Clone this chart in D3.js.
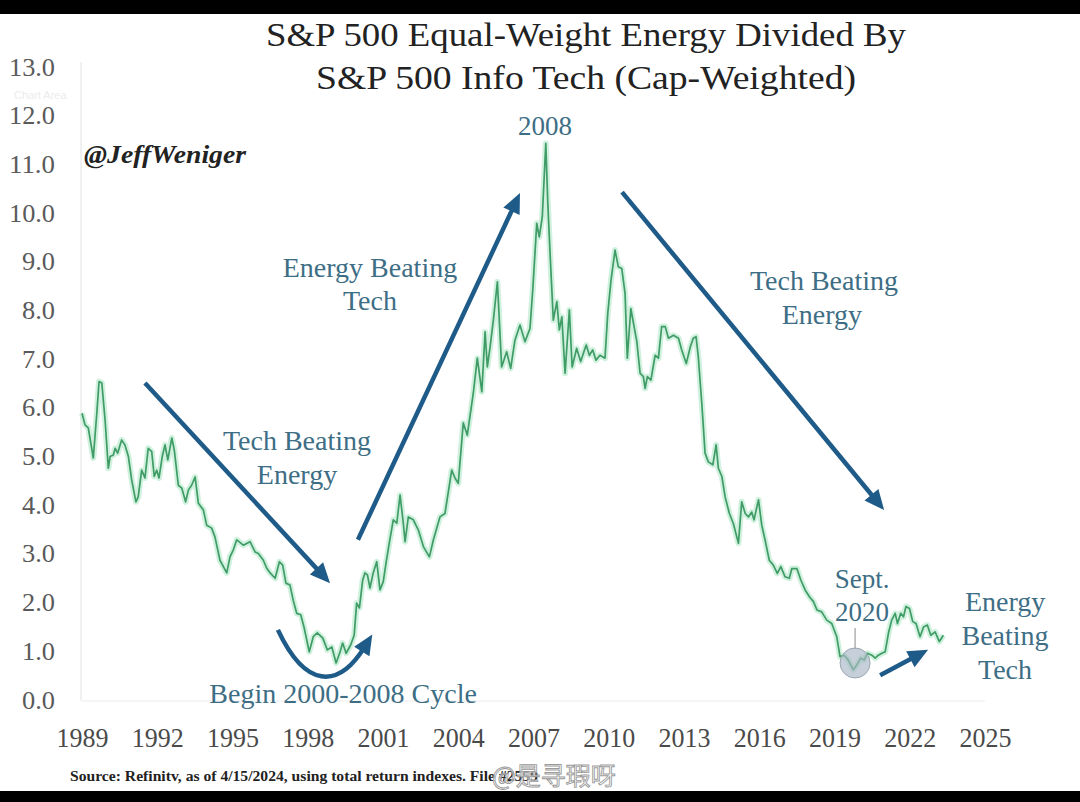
<!DOCTYPE html>
<html><head><meta charset="utf-8">
<script src="https://cdn.jsdelivr.net/npm/d3@7"></script>
<style>html,body{margin:0;padding:0;background:#fff;}svg{display:block}</style>
</head><body>
<svg id="c" width="1080" height="802"></svg>
<script>
// ---- data (x = chart axis year, value = ratio) ----
const years = [1989.00,1989.12,1989.25,1989.45,1989.59,1989.68,1989.79,1989.92,1990.05,1990.12,1990.25,1990.32,1990.42,1990.58,1990.71,1990.85,1990.98,1991.15,1991.24,1991.38,1991.51,1991.64,1991.78,1991.88,1991.98,1992.07,1992.20,1992.31,1992.42,1992.58,1992.68,1992.84,1992.98,1993.13,1993.24,1993.37,1993.51,1993.64,1993.84,1993.97,1994.17,1994.30,1994.50,1994.77,1994.90,1995.03,1995.17,1995.43,1995.70,1995.90,1996.03,1996.23,1996.36,1996.50,1996.70,1996.87,1997.00,1997.13,1997.29,1997.42,1997.56,1997.72,1997.85,1998.06,1998.22,1998.38,1998.60,1998.78,1998.96,1999.13,1999.29,1999.39,1999.53,1999.71,1999.85,1999.95,2000.06,2000.19,2000.28,2000.38,2000.48,2000.61,2000.75,2000.88,2001.01,2001.12,2001.25,2001.41,2001.55,2001.68,2001.81,2001.88,2002.01,2002.21,2002.41,2002.61,2002.85,2003.01,2003.27,2003.47,2003.74,2003.87,2004.00,2004.20,2004.36,2004.60,2004.76,2004.94,2005.07,2005.16,2005.27,2005.40,2005.56,2005.73,2005.93,2006.09,2006.26,2006.46,2006.66,2006.86,2006.97,2007.13,2007.23,2007.35,2007.49,2007.57,2007.66,2007.79,2007.93,2008.03,2008.13,2008.26,2008.43,2008.54,2008.72,2008.88,2009.10,2009.23,2009.36,2009.49,2009.65,2009.85,2009.96,2010.09,2010.25,2010.38,2010.52,2010.65,2010.74,2010.88,2011.01,2011.12,2011.25,2011.38,2011.45,2011.54,2011.68,2011.85,2011.98,2012.11,2012.25,2012.38,2012.58,2012.78,2012.91,2013.09,2013.25,2013.37,2013.48,2013.57,2013.71,2013.84,2013.97,2014.15,2014.28,2014.37,2014.51,2014.64,2014.81,2014.97,2015.17,2015.30,2015.44,2015.57,2015.70,2015.79,2015.97,2016.10,2016.23,2016.40,2016.56,2016.72,2016.86,2017.03,2017.20,2017.30,2017.50,2017.66,2017.83,2018.00,2018.16,2018.30,2018.49,2018.69,2018.89,2019.09,2019.22,2019.38,2019.55,2019.75,2019.89,2020.05,2020.18,2020.31,2020.49,2020.62,2020.75,2020.89,2021.02,2021.15,2021.28,2021.42,2021.51,2021.64,2021.75,2021.85,2021.99,2022.12,2022.25,2022.41,2022.55,2022.70,2022.84,2023.01,2023.18,2023.34];
const ratio = [5.89,5.65,5.59,4.97,5.89,6.54,6.51,5.75,4.76,5.00,5.03,5.17,5.07,5.34,5.24,5.00,4.52,4.07,4.17,4.72,4.56,5.17,5.10,4.59,4.72,4.56,5.00,5.24,4.93,5.38,5.13,4.41,4.35,4.07,4.31,4.41,4.58,4.04,3.90,3.59,3.53,3.35,2.87,2.61,2.94,3.08,3.29,3.18,3.25,3.04,3.01,2.87,2.71,2.61,2.50,2.84,2.77,2.40,2.36,2.05,1.78,1.75,1.50,0.99,1.30,1.38,1.27,1.03,1.09,0.76,0.99,1.17,0.96,1.13,1.33,1.99,1.89,2.46,2.61,2.57,2.30,2.61,2.84,2.26,2.43,2.81,3.22,3.70,3.63,4.21,3.63,3.25,3.76,3.70,3.49,3.15,2.94,3.29,3.76,3.83,4.72,4.56,4.45,5.69,5.44,6.30,7.02,6.33,7.56,6.84,7.25,7.80,8.59,6.84,7.15,6.81,7.39,7.70,7.36,7.63,8.42,9.79,9.51,9.92,11.43,10.20,9.18,7.80,8.18,7.60,7.87,6.71,8.01,6.84,7.22,6.95,7.29,7.08,7.19,6.98,7.08,7.02,7.94,8.62,9.24,8.90,8.86,8.35,7.02,8.04,7.67,7.36,6.71,6.64,6.40,6.64,6.57,7.08,7.02,7.67,7.67,7.43,7.49,7.43,7.19,6.91,7.25,7.43,7.46,7.05,6.09,5.07,4.89,4.83,5.24,4.76,4.59,4.17,3.83,3.62,3.22,4.07,3.83,3.76,3.86,3.70,4.11,3.59,3.29,2.87,2.77,2.60,2.74,2.53,2.50,2.70,2.70,2.46,2.26,2.12,2.02,1.85,1.81,1.64,1.57,1.30,0.89,0.92,0.82,0.62,0.72,0.86,0.82,0.96,0.92,0.86,0.92,0.96,0.99,1.37,1.64,1.78,1.57,1.78,1.71,1.92,1.88,1.61,1.57,1.30,1.50,1.54,1.33,1.40,1.20,1.33];
const yTicks = [0,1,2,3,4,5,6,7,8,9,10,11,12,13];
const xTicks = [1989,1992,1995,1998,2001,2004,2007,2010,2013,2016,2019,2022,2025];
const titleLines = ["S&P 500 Equal-Weight Energy Divided By", "S&P 500 Info Tech (Cap-Weighted)"];
const handle = "@JeffWeniger";
const sourceText = "Source: Refinitv, as of 4/15/2024, using total return indexes. File #2559";
const watermark = "@是寻瑕呀";
// annotation texts anchored in chart units
const notes = [
  {t:"2008", x:2007.46, v:11.60},
  {t:"Energy Beating", x:2000.48, v:8.69},
  {t:"Tech", x:2000.48, v:8.01},
  {t:"Tech Beating", x:1997.57, v:5.13},
  {t:"Energy", x:1997.57, v:4.44},
  {t:"Tech Beating", x:2018.58, v:8.42},
  {t:"Energy", x:2018.50, v:7.72},
  {t:"Begin 2000-2008 Cycle", x:1999.41, v:-0.06},
  {t:"Sept.", x:2020.10, v:2.30},
  {t:"2020", x:2020.10, v:1.62},
  {t:"Energy", x:2025.80, v:1.83},
  {t:"Beating", x:2025.80, v:1.13},
  {t:"Tech", x:2025.80, v:0.43}
];
const arrows = [
  {x0:1991.51, v0:6.51, x1:1998.89, v1:2.40},
  {x0:2000.00, v0:3.29, x1:2006.46, v1:10.41},
  {x0:2010.53, v0:10.43, x1:2020.98, v1:3.90},
  {x0:2020.82, v0:0.51, x1:2022.73, v1:1.03}
];
const cycleCurve = [[1996.81,1.44],[1997.89,0.25],[1999.21,0.20],[2000.28,1.10]];
const septMark = {x:2019.82, v:0.76};

// ---- layout ----
const svg = d3.select("#c");
const x = d3.scaleLinear().domain([1989, 2025]).range([82, 985]);
const y = d3.scaleLinear().domain([0, 13]).range([700, 67]);
const serif = "'Liberation Serif', 'Times New Roman', serif";

svg.append("rect").attr("x",0).attr("y",0).attr("width",1080).attr("height",802).attr("fill","#fff");
svg.append("rect").attr("x",0).attr("y",0).attr("width",1080).attr("height",14).attr("fill","#000");
svg.append("rect").attr("x",0).attr("y",791).attr("width",1080).attr("height",11).attr("fill","#000");

// title
svg.selectAll("text.title").data(titleLines).join("text")
  .attr("x", 586).attr("y",(d,i)=>46+i*43)
  .attr("text-anchor","middle")
  .attr("font-family",serif).attr("font-size",33).attr("fill","#222")
  .attr("textLength",(d,i)=>i===0?640:540).attr("lengthAdjust","spacingAndGlyphs")
  .text(d=>d);

// faint leftover tooltip
svg.append("text").attr("x",14).attr("y",99).attr("font-family","'Liberation Sans',sans-serif")
  .attr("font-size",11).attr("fill","#ececec").text("Chart Area");

// axes frame
svg.append("line").attr("x1",x(1989)-1).attr("x2",x(1989)-1).attr("y1",62).attr("y2",y(0))
  .attr("stroke","#e2e2e2").attr("stroke-width",1);
svg.append("line").attr("x1",x(1989)-1).attr("x2",x(2025)).attr("y1",y(0)+1).attr("y2",y(0)+1)
  .attr("stroke","#ececec").attr("stroke-width",1);

// y axis
const gy = svg.append("g").attr("transform",`translate(${x(1989)-1},0)`)
  .call(d3.axisLeft(y).tickValues(yTicks).tickFormat(d3.format(".1f")).tickSize(0).tickPadding(26));
gy.select(".domain").remove();
gy.selectAll("text").attr("font-family",serif).attr("font-size",25).attr("fill","#5a5a5a")
  .attr("textLength",d=>d>=10?46:33).attr("lengthAdjust","spacingAndGlyphs");

// x axis
const gx = svg.append("g").attr("transform",`translate(0,${y(0)})`)
  .call(d3.axisBottom(x).tickValues(xTicks).tickFormat(d3.format("d")).tickSize(0));
gx.select(".domain").remove();
gx.selectAll("text").attr("y",47).attr("dy",0).attr("font-family",serif).attr("font-size",27).attr("fill","#4a4a4a")
  .attr("textLength",52).attr("lengthAdjust","spacingAndGlyphs");

// handle
svg.append("text").attr("x",84).attr("y",163).attr("font-family",serif).attr("font-weight","bold")
  .attr("font-style","italic").attr("font-size",25).attr("fill","#222")
  .attr("textLength",162).attr("lengthAdjust","spacingAndGlyphs").text(handle);

// line
const pts = years.map((yr,i)=>[yr, ratio[i]]);
const line = d3.line().x(d=>x(d[0])).y(d=>y(d[1]));
svg.append("path").datum(pts).attr("d",line).attr("fill","none")
  .attr("stroke","#c4eed6").attr("stroke-width",6).attr("stroke-linejoin","round").attr("opacity",0.8);
svg.append("path").datum(pts).attr("d",line).attr("fill","none")
  .attr("stroke","#3f9c66").attr("stroke-width",1.7).attr("stroke-linejoin","round");

// arrows
const arrowColor = "#1f5b88";
function head(tipX, tipY, ang, len, half){
  const bx = tipX - len*Math.cos(ang), by = tipY - len*Math.sin(ang);
  const px = -Math.sin(ang)*half, py = Math.cos(ang)*half;
  return [[tipX,tipY],[bx+px,by+py],[bx-px,by-py]];
}
arrows.forEach(a=>{
  const X0=x(a.x0), Y0=y(a.v0), X1=x(a.x1), Y1=y(a.v1);
  const ang = Math.atan2(Y1-Y0, X1-X0);
  const len = 20;
  svg.append("line").attr("x1",X0).attr("y1",Y0)
    .attr("x2",X1-(len-4)*Math.cos(ang)).attr("y2",Y1-(len-4)*Math.sin(ang))
    .attr("stroke",arrowColor).attr("stroke-width",4.5);
  svg.append("polygon").attr("points",head(X1,Y1,ang,len,9).map(p=>p.join(",")).join(" ")).attr("fill",arrowColor);
});
// curved cycle arrow
const cc = cycleCurve.map(d=>[x(d[0]), y(d[1])]);
svg.append("path").attr("d",`M${cc[0]}C${cc[1]} ${cc[2]} ${cc[3]}`)
  .attr("fill","none").attr("stroke",arrowColor).attr("stroke-width",4.5);
{
  const ang = Math.atan2(cc[3][1]-cc[2][1], cc[3][0]-cc[2][0]);
  const tx = cc[3][0]+14*Math.cos(ang), ty = cc[3][1]+14*Math.sin(ang);
  svg.append("polygon").attr("points",head(tx,ty,ang,20,9).map(p=>p.join(",")).join(" ")).attr("fill",arrowColor);
}

// Sept 2020 marker
svg.append("line").attr("x1",x(septMark.x)).attr("x2",x(septMark.x))
  .attr("y1",628).attr("y2",y(septMark.v)-14).attr("stroke","#8a8a8a").attr("stroke-width",1);
svg.append("circle").attr("cx",x(septMark.x)).attr("cy",y(septMark.v)).attr("r",15)
  .attr("fill","#a9b7c6").attr("fill-opacity",0.65).attr("stroke","#9aa6b2").attr("stroke-width",1);

// annotation texts
svg.selectAll("text.note").data(notes).join("text")
  .attr("x",d=>x(d.x)).attr("y",d=>y(d.v)).attr("text-anchor","middle")
  .attr("font-family",serif).attr("font-size",d=>d.t==="2008"||d.t==="Sept."||d.t==="2020"?27:28)
  .attr("fill","#3d6e85").text(d=>d.t);

// source
svg.append("text").attr("x",70).attr("y",781).attr("font-family",serif).attr("font-weight","bold")
  .attr("font-size",15).attr("fill","#222")
  .attr("textLength",468).attr("lengthAdjust","spacingAndGlyphs").text(sourceText);
// watermark
svg.append("text").attr("x",492).attr("y",785).attr("font-family","'Noto Sans CJK SC',sans-serif")
  .attr("font-size",25).attr("fill","#ffffff").attr("fill-opacity",0.6)
  .attr("stroke","#9a9a9a").attr("stroke-width",0.9).text(watermark);
</script>
</body></html>
